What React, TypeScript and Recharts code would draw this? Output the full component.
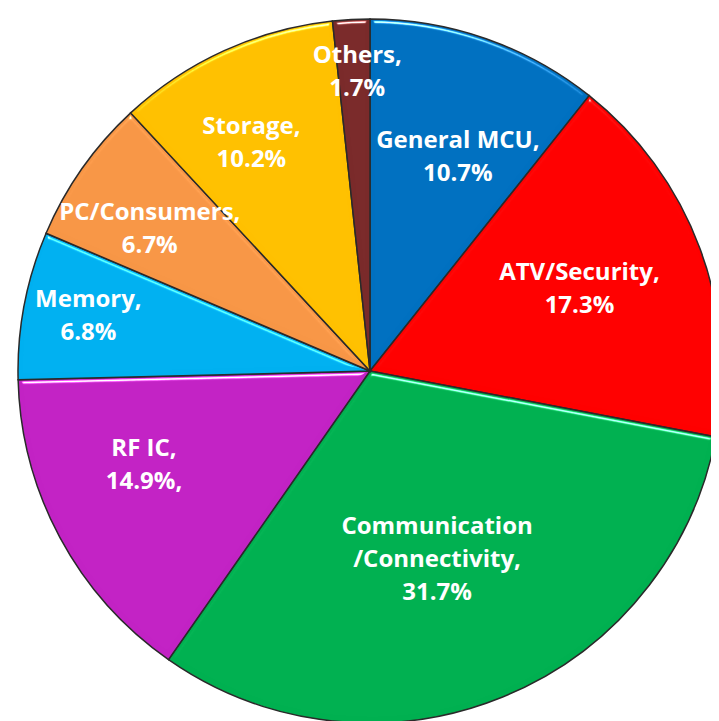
import React from "react";
import { PieChart, Pie, Cell } from "recharts";

const categories = [
  "General MCU",
  "ATV/Security",
  "Communication/Connectivity",
  "RF IC",
  "Memory",
  "PC/Consumers",
  "Storage",
  "Others",
];
const shares = [10.7, 17.3, 31.7, 14.9, 6.8, 6.7, 10.2, 1.7];
const labelLines = [
  ["General MCU,", "10.7%"],
  ["ATV/Security,", "17.3%"],
  ["Communication", "/Connectivity,", "31.7%"],
  ["RF IC,", "14.9%,"],
  ["Memory,", "6.8%"],
  ["PC/Consumers,", "6.7%"],
  ["Storage,", "10.2%"],
  ["Others,", "1.7%"],
];
const colors = ["#0070C0", "#FF0000", "#00B050", "#C222C4", "#00B0F0", "#F79646", "#FFC000", "#7A2A2A"];

const data = categories.map((name, i) => ({ name, value: shares[i], lines: labelLines[i] }));

// label placement (fraction of radius, angle tweak in degrees)
const labelRadius = [0.66, 0.645, 0.57, 0.69, 0.81, 0.74, 0.73, 0.85];
const labelAngleShift = [-3.5, 1, -2, -5.5, -0.5, 2, 2.5, -1];

const RAD = Math.PI / 180;

const renderLabel = (props: any) => {
  const { cx, cy, midAngle, outerRadius, index } = props;
  const r = outerRadius * labelRadius[index];
  const a = (midAngle + labelAngleShift[index]) * RAD;
  const x = cx + r * Math.cos(a) - 2;
  const y = cy - r * Math.sin(a) - 2;
  const lines: string[] = data[index].lines;
  const lh = 33;
  const y0 = y - ((lines.length - 1) * lh) / 2;
  return (
    <text
      x={x}
      y={y0}
      textAnchor="middle"
      dominantBaseline="central"
      fill="#FFFFFF"
      fontFamily="'Open Sans', sans-serif"
      fontWeight="bold"
      fontSize={24}
      style={{ letterSpacing: "0px" }}
    >
      {lines.map((l, i) => (
        <tspan key={i} x={x} y={y0 + i * lh}>
          {l}
        </tspan>
      ))}
    </text>
  );
};

export default function App() {
  return (
    <div style={{ width: 711, height: 713, background: "#fff" }}>
      <PieChart width={711} height={713}>
        <defs>
          <filter
            id="bevel"
            x="-5%"
            y="-5%"
            width="110%"
            height="110%"
            colorInterpolationFilters="sRGB"
          >
            <feGaussianBlur in="SourceAlpha" stdDeviation="2.5" result="blur" />
            <feSpecularLighting
              in="blur"
              surfaceScale="4"
              specularConstant="0.9"
              specularExponent="60"
              lightingColor="#ffffff"
              result="spec"
            >
              <feDistantLight azimuth={270} elevation={40} />
            </feSpecularLighting>
            <feComposite in="spec" in2="SourceAlpha" operator="in" result="specIn" />
            <feComposite in="SourceGraphic" in2="specIn" operator="arithmetic" k1={0} k2={1} k3={1} k4={0} />
          </filter>
        </defs>
        <Pie
          data={data}
          dataKey="value"
          nameKey="name"
          cx={357}
          cy={358}
          outerRadius={352}
          startAngle={90}
          endAngle={-270}
          stroke="#2a2a2a"
          strokeWidth={1.5}
          label={renderLabel}
          labelLine={false}
          isAnimationActive={false}
        >
          {data.map((d, i) => (
            <Cell key={d.name} fill={colors[i]} filter="url(#bevel)" />
          ))}
        </Pie>
      </PieChart>
    </div>
  );
}
